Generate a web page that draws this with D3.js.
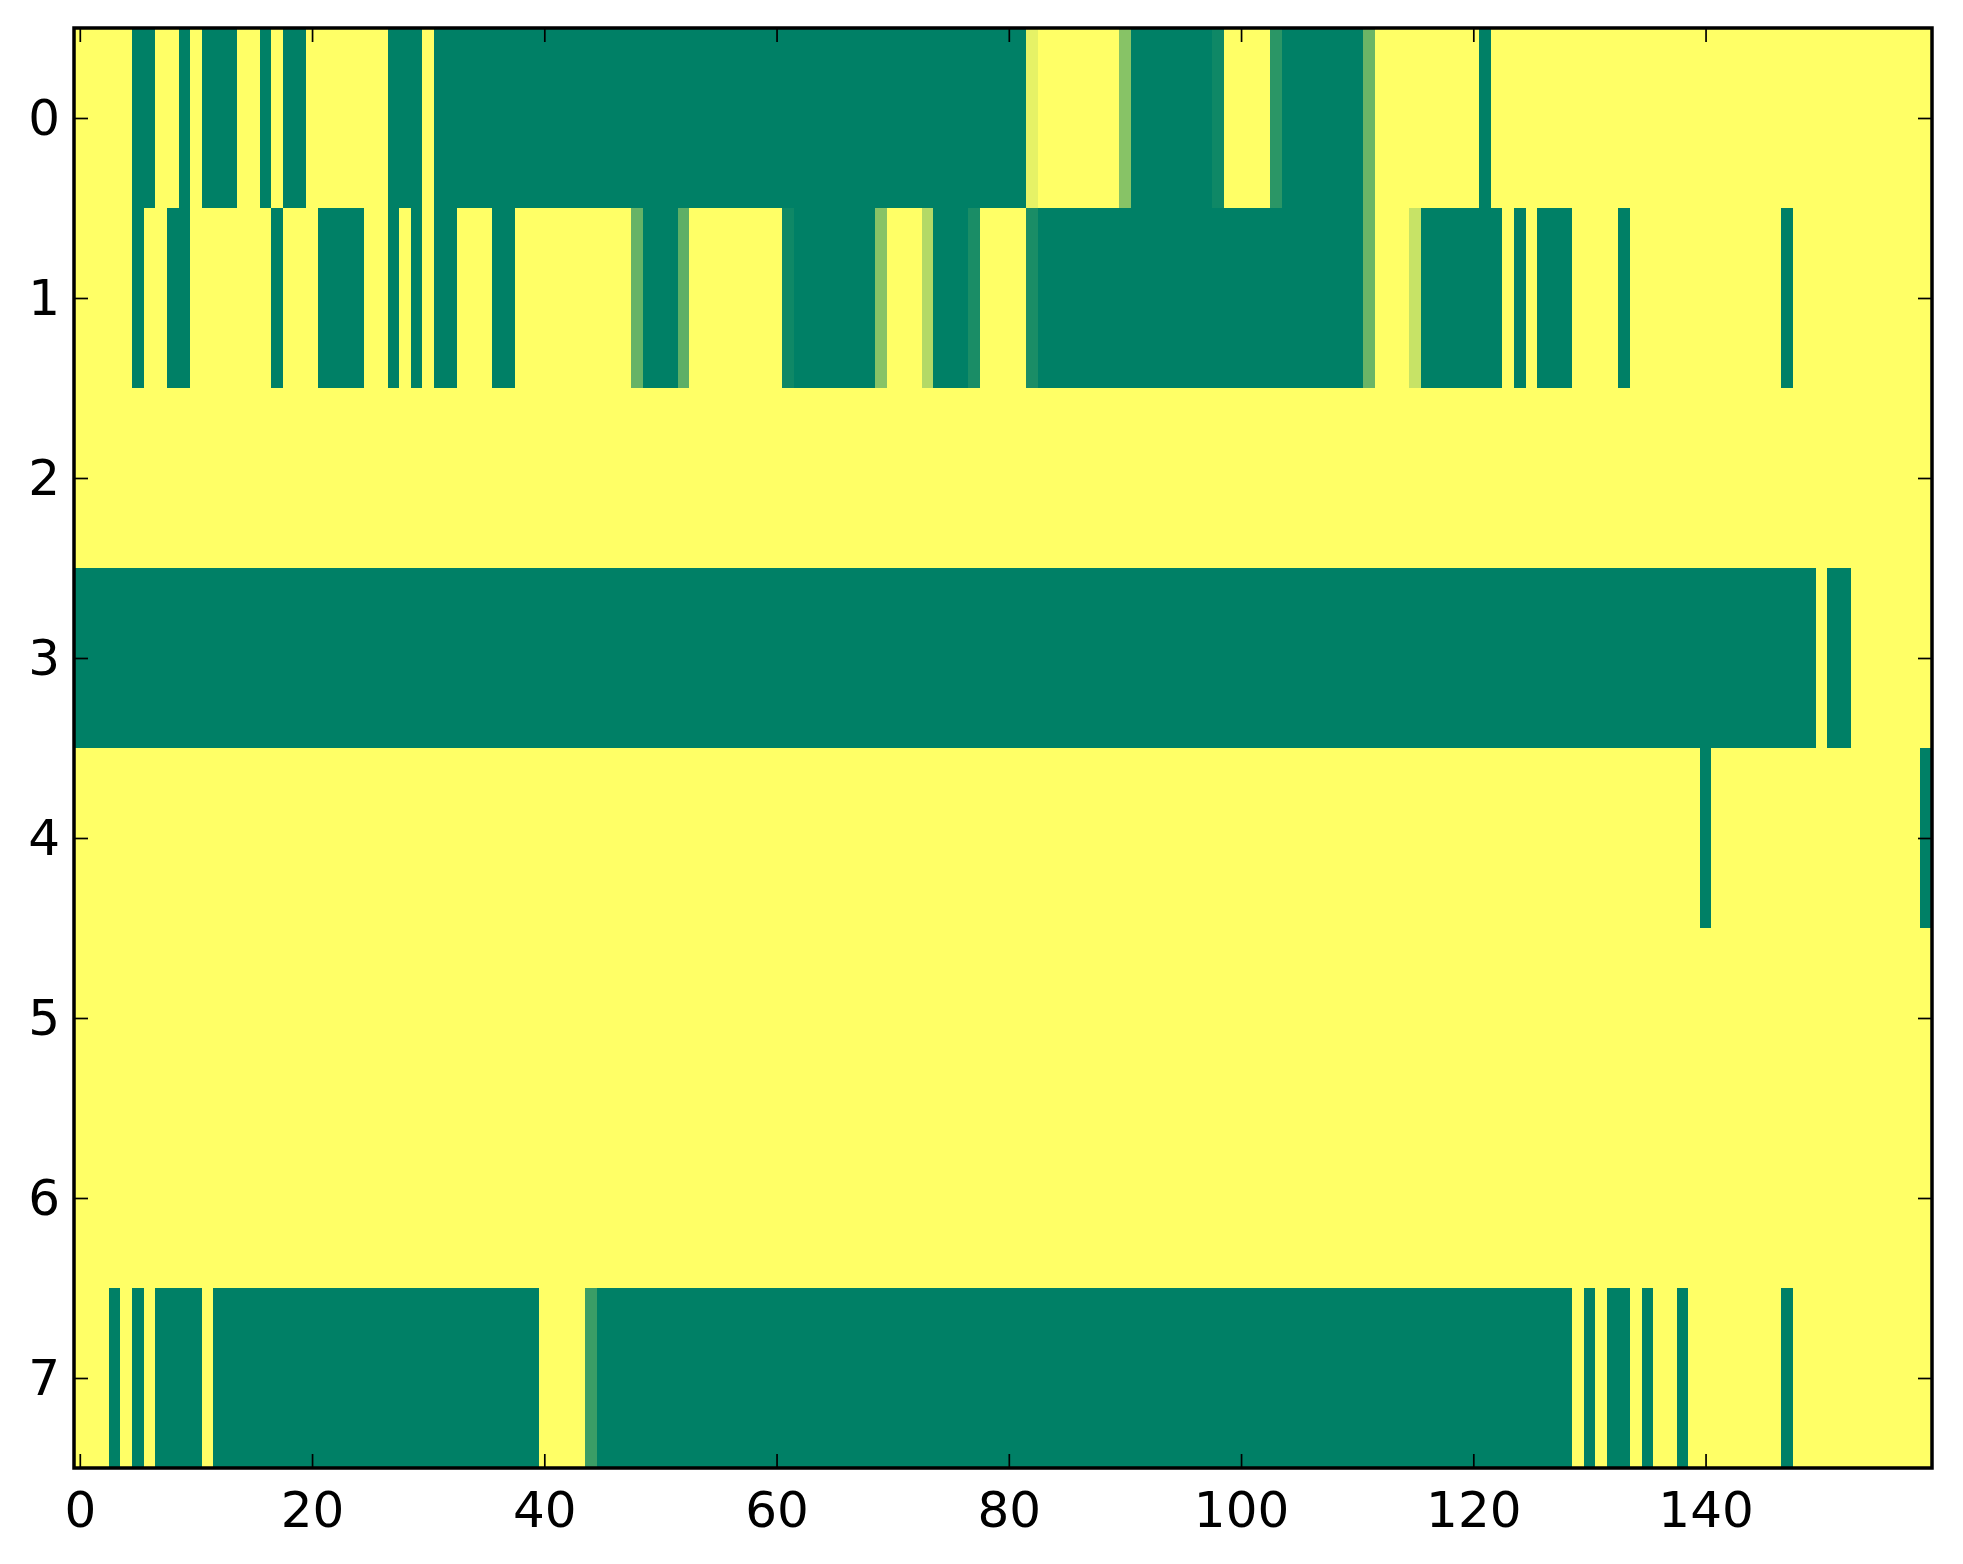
<!DOCTYPE html>
<html>
<head>
<meta charset="utf-8">
<script src="https://cdn.jsdelivr.net/npm/d3@7"></script>
<style>
  html, body { margin: 0; padding: 0; background: #fff; }
</style>
</head>
<body>
<div id="chart"></div>
<script>
// Binary-ish raster, 8 rows x 160 columns, summer colormap (0 = green, 1 = yellow)
const row0 = [
  1,1,1,1,1, 0,0, 1,1, 0, 1, 0,0,0, 1,1, 0, 1, 0,0,
  1,1,1,1,1,1,1, 0,0,0, 1, 0,0,0,0,0,0,0,0,0,
  0,0,0,0,0,0,0,0,0,0, 0,0,0,0,0,0,0,0,0,0,
  0,0,0,0,0,0,0,0,0,0, 0,0,0,0,0,0,0,0,0,0,
  0,0, 0.9, 1,1,1,1,1,1,1, 0.53, 0,0,0,0,0,0,0, 0.06, 1,
  1,1,1, 0.17, 0,0,0,0,0,0,0, 0.42, 1,1,1,1,1,1,1,1,
  1, 0, 1,1,1,1,1,1,1,1,1,1,1,1,1,1,1,1,1,1,
  1,1,1,1,1,1,1,1,1,1, 1,1,1,1,1,1,1,1,1,1
];
const row1 = [
  1,1,1,1,1, 0, 1,1, 0,0, 1,1,1,1,1,1,1, 0, 1,1,
  1, 0,0,0,0, 1,1, 0, 1, 0, 1, 0,0, 1,1,1, 0,0, 1,1,
  1,1,1,1,1,1,1,1, 0.4, 0,0,0, 0.37, 1,1,1,1,1,1,1,
  1, 0.06, 0,0,0,0,0,0,0, 0.53, 1,1,1, 0.7, 0,0,0, 0.1, 1,1,
  1,1, 0.1, 0,0,0,0,0,0,0,0,0,0,0,0,0,0,0,0,0,
  0,0,0,0,0,0,0,0,0,0,0, 0.42, 1,1,1, 0.78, 0,0,0,0,
  0,0,0, 1, 0, 1, 0,0,0, 1,1,1,1, 0, 1,1,1,1,1,1,
  1,1,1,1,1,1,1, 0, 1,1,1,1,1,1,1,1,1,1,1,1
];
const row2 = [
  1,1,1,1,1,1,1,1,1,1, 1,1,1,1,1,1,1,1,1,1,
  1,1,1,1,1,1,1,1,1,1, 1,1,1,1,1,1,1,1,1,1,
  1,1,1,1,1,1,1,1,1,1, 1,1,1,1,1,1,1,1,1,1,
  1,1,1,1,1,1,1,1,1,1, 1,1,1,1,1,1,1,1,1,1,
  1,1,1,1,1,1,1,1,1,1, 1,1,1,1,1,1,1,1,1,1,
  1,1,1,1,1,1,1,1,1,1, 1,1,1,1,1,1,1,1,1,1,
  1,1,1,1,1,1,1,1,1,1, 1,1,1,1,1,1,1,1,1,1,
  1,1,1,1,1,1,1,1,1,1, 1,1,1,1,1,1,1,1,1,1
];
const row3 = [
  0,0,0,0,0,0,0,0,0,0, 0,0,0,0,0,0,0,0,0,0,
  0,0,0,0,0,0,0,0,0,0, 0,0,0,0,0,0,0,0,0,0,
  0,0,0,0,0,0,0,0,0,0, 0,0,0,0,0,0,0,0,0,0,
  0,0,0,0,0,0,0,0,0,0, 0,0,0,0,0,0,0,0,0,0,
  0,0,0,0,0,0,0,0,0,0, 0,0,0,0,0,0,0,0,0,0,
  0,0,0,0,0,0,0,0,0,0, 0,0,0,0,0,0,0,0,0,0,
  0,0,0,0,0,0,0,0,0,0, 0,0,0,0,0,0,0,0,0,0,
  0,0,0,0,0,0,0,0,0,0, 1, 0,0, 1,1,1,1,1,1,1
];
const row4 = [
  1,1,1,1,1,1,1,1,1,1, 1,1,1,1,1,1,1,1,1,1,
  1,1,1,1,1,1,1,1,1,1, 1,1,1,1,1,1,1,1,1,1,
  1,1,1,1,1,1,1,1,1,1, 1,1,1,1,1,1,1,1,1,1,
  1,1,1,1,1,1,1,1,1,1, 1,1,1,1,1,1,1,1,1,1,
  1,1,1,1,1,1,1,1,1,1, 1,1,1,1,1,1,1,1,1,1,
  1,1,1,1,1,1,1,1,1,1, 1,1,1,1,1,1,1,1,1,1,
  1,1,1,1,1,1,1,1,1,1, 1,1,1,1,1,1,1,1,1,1,
  0, 1,1,1,1,1,1,1,1,1, 1,1,1,1,1,1,1,1,1, 0
];
const row5 = row2.slice();
const row6 = row2.slice();
const row7 = [
  1,1,1, 0, 1, 0, 1, 0,0,0,0, 1, 0,0,0,0,0,0,0,0,
  0,0,0,0,0,0,0,0,0,0, 0,0,0,0,0,0,0,0,0,0,
  1,1,1,1, 0.23, 0,0,0,0,0, 0,0,0,0,0,0,0,0,0,0,
  0,0,0,0,0,0,0,0,0,0, 0,0,0,0,0,0,0,0,0,0,
  0,0,0,0,0,0,0,0,0,0, 0,0,0,0,0,0,0,0,0,0,
  0,0,0,0,0,0,0,0,0,0, 0,0,0,0,0,0,0,0,0,0,
  0,0,0,0,0,0,0,0,0, 1, 0, 1, 0,0, 1, 0, 1,1, 0, 1,
  1,1,1,1,1,1,1, 0, 1,1,1,1,1,1,1,1,1,1,1,1
];
const rows = [row0, row1, row2, row3, row4, row5, row6, row7];

const xTicks = [0, 20, 40, 60, 80, 100, 120, 140];
const yTicks = [0, 1, 2, 3, 4, 5, 6, 7];

(function () {
  const W = 1963, H = 1564;
  const left = 74, right = 1932, top = 28, bottom = 1468;
  const nCols = rows[0].length, nRows = rows.length;

  const svg = d3.select("#chart").append("svg")
    .attr("width", W).attr("height", H)
    .style("display", "block");

  const x = d3.scaleLinear().domain([-0.5, nCols - 0.5]).range([left, right]);
  const y = d3.scaleLinear().domain([-0.5, nRows - 0.5]).range([top, bottom]);
  // matplotlib "summer": r = v, g = 0.5 + v/2, b = 0.4
  const color = d3.scaleLinear().domain([0, 1])
    .range(["#008066", "#ffff66"]).interpolate(d3.interpolateRgb);

  const cells = [];
  rows.forEach((r, ri) => r.forEach((v, ci) => cells.push({ r: ri, c: ci, v })));

  svg.append("g").attr("shape-rendering", "crispEdges")
    .selectAll("rect").data(cells).join("rect")
    .attr("x", d => x(d.c - 0.5))
    .attr("y", d => y(d.r - 0.5))
    .attr("width", d => x(d.c + 0.5) - x(d.c - 0.5) + 0.5)
    .attr("height", d => y(d.r + 0.5) - y(d.r - 0.5) + 0.5)
    .attr("fill", d => color(d.v));

  const fs = 50, tickLen = 14;
  const styleAxis = g => {
    g.select(".domain").remove();
    g.selectAll(".tick line").attr("stroke", "#000").attr("stroke-width", 1.7);
    g.selectAll(".tick text")
      .attr("fill", "#000")
      .style("font-family", "'DejaVu Sans', sans-serif")
      .style("font-size", fs + "px");
  };

  // ticks point inward on all four sides (classic style)
  svg.append("g").attr("transform", `translate(0,${bottom})`)
    .call(d3.axisBottom(x).tickValues(xTicks).tickSizeInner(-tickLen).tickSizeOuter(0).tickPadding(23))
    .call(styleAxis);
  svg.append("g").attr("transform", `translate(0,${top})`)
    .call(d3.axisTop(x).tickValues(xTicks).tickSizeInner(-tickLen).tickSizeOuter(0).tickFormat(""))
    .call(styleAxis);
  svg.append("g").attr("transform", `translate(${left},0)`)
    .call(d3.axisLeft(y).tickValues(yTicks).tickSizeInner(-tickLen).tickSizeOuter(0).tickPadding(14))
    .call(styleAxis);
  svg.append("g").attr("transform", `translate(${right},0)`)
    .call(d3.axisRight(y).tickValues(yTicks).tickSizeInner(-tickLen).tickSizeOuter(0).tickFormat(""))
    .call(styleAxis);

  // frame
  svg.append("rect")
    .attr("x", left).attr("y", top)
    .attr("width", right - left).attr("height", bottom - top)
    .attr("fill", "none").attr("stroke", "#000").attr("stroke-width", 3.5);
})();
</script>
</body>
</html>
